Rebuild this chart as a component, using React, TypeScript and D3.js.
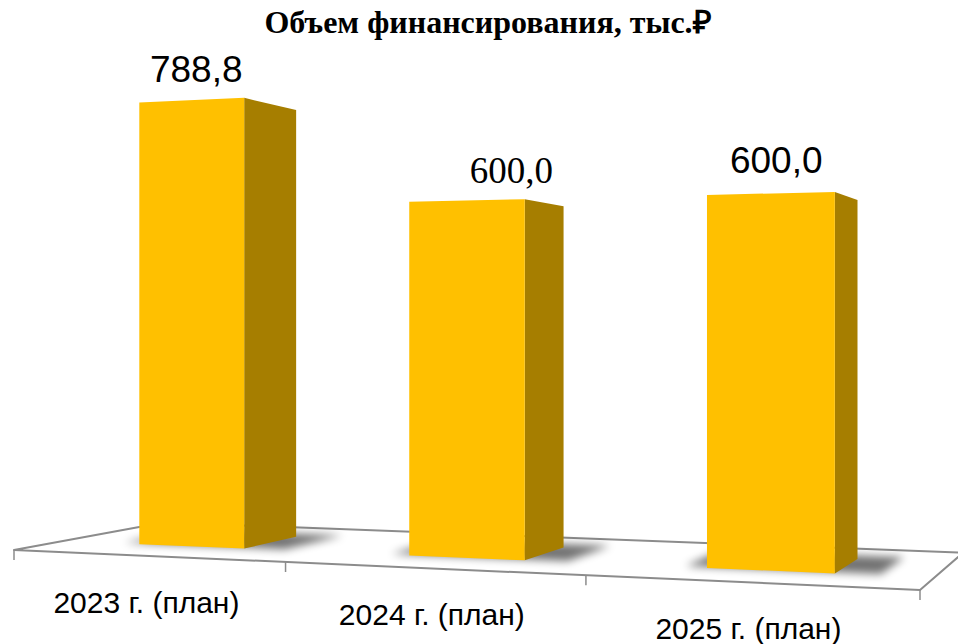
import React from "react";
import * as d3 from "d3";

// ---------- data ----------
const categories: string[] = ["2023 г. (план)", "2024 г. (план)", "2025 г. (план)"];
const values: number[] = [788.8, 600.0, 600.0];
const valueLabels: string[] = ["788,8", "600,0", "600,0"];
const titleText = "Объем финансирования, тыс.₽";

// ---------- layout / styles ----------
const W = 958;
const H = 644;
// perspective projection of the unit floor square (u: along categories, v: depth)
const floorFL: [number, number] = [14, 550];
const floorFR: [number, number] = [920, 590];
const floorBR: [number, number] = [963, 552.75];
const floorBL: [number, number] = [163.7, 522.4];
const horizonY = 328;
const cameraHeight = 386; // in value units
const depthRange: [number, number] = [0.3, 0.7];
const labelFonts = ["Liberation Sans, Arial, sans-serif", "Liberation Serif, 'Times New Roman', serif", "Liberation Sans, Arial, sans-serif"];
const labelSizes = [37, 37, 37];
const labelOffsets: [number, number][] = [[5, -18], [45, -17.5], [6, -20.5]];
const catLabelDy = 57;
const catLabelSize = 30;
const tickLen = 10;
const frontColor = "#FFC000";
const sideColor = "#A67E00";
const floorStroke = "#8C8C8C";

function makeHomography(p00: number[], p10: number[], p11: number[], p01: number[]) {
  const [x0, y0] = p00, [x1, y1] = p10, [x2, y2] = p11, [x3, y3] = p01;
  const dx1 = x1 - x2, dx2 = x3 - x2, sx = x0 - x1 + x2 - x3;
  const dy1 = y1 - y2, dy2 = y3 - y2, sy = y0 - y1 + y2 - y3;
  const det = dx1 * dy2 - dx2 * dy1;
  const g = (sx * dy2 - dx2 * sy) / det;
  const h = (dx1 * sy - sx * dy1) / det;
  const a = x1 - x0 + g * x1, b = x3 - x0 + h * x3, c = x0;
  const d = y1 - y0 + g * y1, e = y3 - y0 + h * y3, f = y0;
  return (u: number, v: number): [number, number] => {
    const den = g * u + h * v + 1;
    return [(a * u + b * v + c) / den, (d * u + e * v + f) / den];
  };
}

const floorPt = makeHomography(floorFL, floorFR, floorBR, floorBL);
const heightScale = d3.scaleLinear().domain([0, cameraHeight]).range([0, 1]);

function pt3(u: number, v: number, val: number): [number, number] {
  const [x, yf] = floorPt(u, v);
  return [x, horizonY + (yf - horizonY) * (1 - heightScale(val))];
}

const xBand = d3.scaleBand<string>().domain(categories).range([0, 1]).paddingInner(0.6).paddingOuter(0.3);

const pts = (arr: [number, number][]) => arr.map((p) => `${p[0].toFixed(2)},${p[1].toFixed(2)}`).join(" ");

export default function App() {
  const [v0, v1] = depthRange;
  const floorPoly = pts([floorPt(0, 0), floorPt(1, 0), floorPt(1, 1), floorPt(0, 1)]);
  const boundaries = d3.range(0, categories.length + 1).map((i) => i * xBand.step());

  return (
    <svg width={W} height={H} style={{ position: "absolute", left: 0, top: 0, background: "#fff" }}>
      <defs>
        <filter id="shadowBlur" x="-50%" y="-50%" width="200%" height="200%">
          <feGaussianBlur stdDeviation="4.5" />
        </filter>
      </defs>
      <rect x={0} y={0} width={W} height={H} fill="#fff" />
      <text x={488} y={33} textAnchor="middle" fontFamily="Liberation Serif, 'Times New Roman', serif" fontWeight="bold" fontSize={32} fill="#000">
        {titleText}
      </text>
      {/* floor */}
      <polygon points={floorPoly} fill="#fff" stroke={floorStroke} strokeWidth={2} strokeLinejoin="round" />
      {boundaries.map((u, i) => {
        const [x, y] = floorPt(u, 0);
        return <line key={"t" + i} x1={x} y1={y} x2={x} y2={y + tickLen} stroke={floorStroke} strokeWidth={1.5} />;
      })}
      {/* shadows */}
      {categories.map((c, i) => {
        const u0 = xBand(c)!;
        const u1 = u0 + xBand.bandwidth();
        const poly = pts([
          floorPt(u0 - 0.025, v0 + 0.03),
          floorPt(u1 + 0.045, v0 + 0.03),
          floorPt(u1 + 0.045, v1 + 0.1),
          floorPt(u0 - 0.025, v1 + 0.1),
        ]);
        return <polygon key={"s" + i} points={poly} fill="#000" opacity={0.55} filter="url(#shadowBlur)" />;
      })}
      {/* bars */}
      {categories.map((c, i) => {
        const u0 = xBand(c)!;
        const u1 = u0 + xBand.bandwidth();
        const val = values[i];
        const front = pts([pt3(u0, v0, 0), pt3(u1, v0, 0), pt3(u1, v0, val), pt3(u0, v0, val)]);
        const side = pts([pt3(u1, v0, 0), pt3(u1, v1, 0), pt3(u1, v1, val), pt3(u1, v0, val)]);
        return (
          <g key={"b" + i}>
            <polygon points={side} fill={sideColor} />
            <polygon points={front} fill={frontColor} />
          </g>
        );
      })}
      {/* value labels */}
      {categories.map((c, i) => {
        const uc = xBand(c)! + xBand.bandwidth() / 2;
        const [x, y] = pt3(uc, v0, values[i]);
        return (
          <text key={"v" + i} x={x + labelOffsets[i][0]} y={y + labelOffsets[i][1]} textAnchor="middle" fontFamily={labelFonts[i]} fontSize={labelSizes[i]} fill="#000">
            {valueLabels[i]}
          </text>
        );
      })}
      {/* category labels */}
      {categories.map((c, i) => {
        const uc = xBand(c)! + xBand.bandwidth() / 2;
        const [x, y] = floorPt(uc, 0);
        return (
          <text key={"c" + i} x={x} y={y + catLabelDy} textAnchor="middle" fontFamily="Liberation Sans, Arial, sans-serif" fontSize={catLabelSize} fill="#000">
            {c}
          </text>
        );
      })}
    </svg>
  );
}
